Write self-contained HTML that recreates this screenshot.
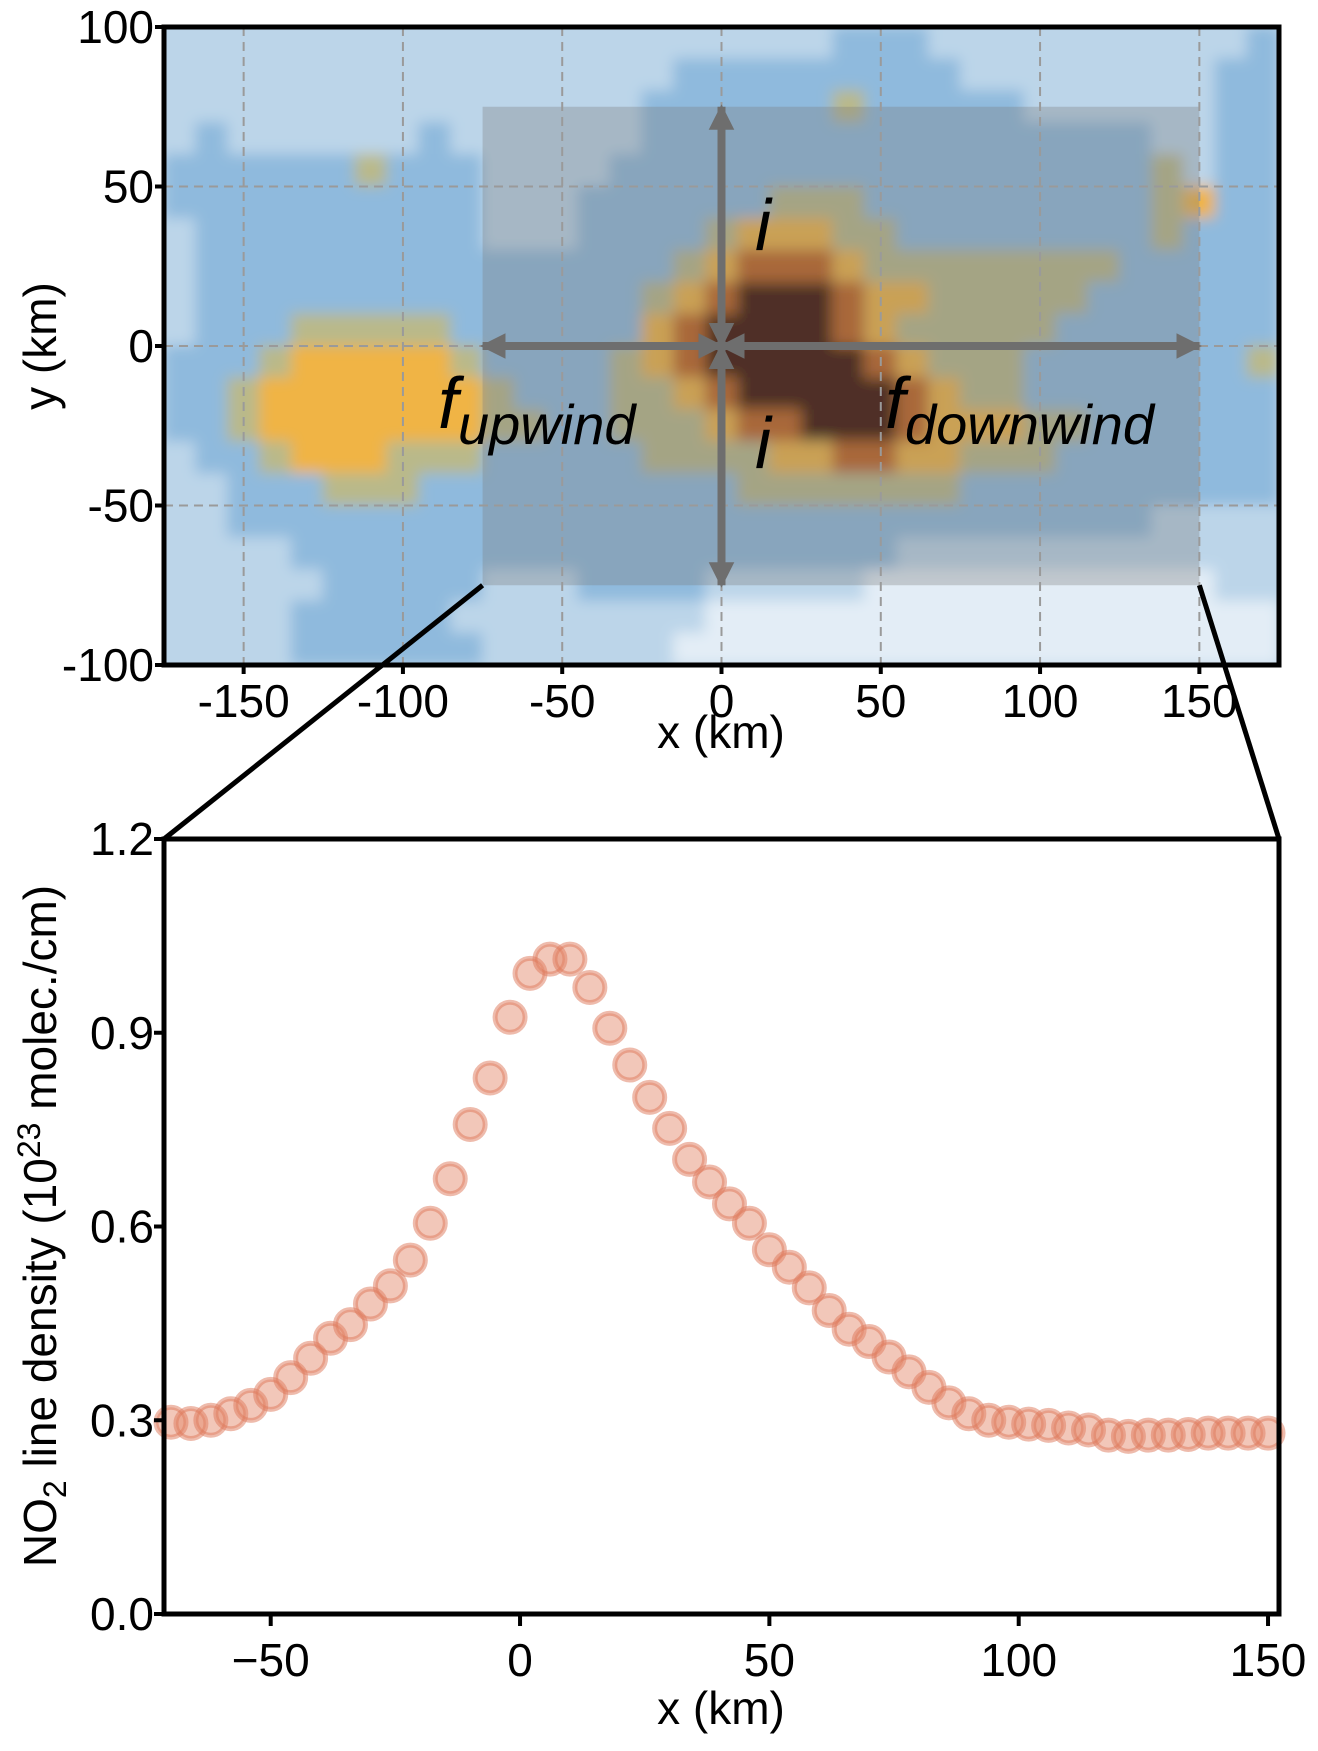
<!DOCTYPE html>
<html><head><meta charset="utf-8"><style>
body{margin:0;background:#fff;}
svg text{font-family:"Liberation Sans",sans-serif;fill:#000;}
</style></head><body>
<svg id="fig" width="1318" height="1746" viewBox="0 0 1318 1746" xmlns="http://www.w3.org/2000/svg">
<defs>
<filter id="blur" x="-5%" y="-5%" width="110%" height="110%"><feGaussianBlur stdDeviation="7"/></filter>
<clipPath id="topclip"><rect x="164" y="27" width="1115" height="638"/></clipPath>
<marker id="ah" viewBox="0 0 10 10" refX="9" refY="5" markerWidth="3.2" markerHeight="3.2" orient="auto-start-reverse"><path d="M0,0 L10,5 L0,10 z" fill="#6e6e6e"/></marker>
</defs>
<g id="topPanel"></g>
<g id="bottomPanel"></g>
</svg>
<script>
// ---- top heatmap data (10 km cells, rows from y=95 down to y=-95, cols x=-170..170)
const heatRows = [
"11111111111111111111122211111111112",
"11111111111111112222222221111111122",
"11111111111111122222232222211111122",
"12111111211111122222222222222221122",
"22222232221111222222222222222223122",
"22222222221112222223332222222223422",
"12222222221112222344433222222223222",
"12222222222222223455543333333322222",
"12222222222222234566654433333222222",
"12223333322222245666654333332222222",
"22234444432222345666665433322222223",
"22344444443222334566666543322222222",
"22344444443322333455666544433222222",
"12234443332222233334455443332222222",
"11222333222222222233333332222222222",
"11222222222222222222222222222221111",
"11112222222222222222222111111111111",
"11111222221112222111110000000000011",
"11112222211111111000000000000000000",
"11112222221111110000000000000000000"];
const heatColors = ["#e3edf6","#bcd5e9","#8fbadd","#b9b98a","#f0b445","#c0601a","#3a0a00"];
const topXTicks = [-150,-100,-50,0,50,100,150];
const topYTicks = [100,50,0,-50,-100];
// ---- bottom scatter data
const profileX = [-70,-66,-62,-58,-54,-50,-46,-42,-38,-34,-30,-26,-22,-18,-14,-10,-6,-2,2,6,10,14,18,22,26,30,34,38,42,46,50,54,58,62,66,70,74,78,82,86,90,94,98,102,106,110,114,118,122,126,130,134,138,142,146,150];
const profileY = [0.297,0.295,0.300,0.31,0.323,0.34,0.366,0.396,0.427,0.448,0.48,0.508,0.548,0.605,0.674,0.758,0.83,0.924,0.992,1.014,1.014,0.97,0.907,0.85,0.80,0.752,0.704,0.669,0.635,0.605,0.564,0.537,0.505,0.47,0.441,0.422,0.398,0.375,0.351,0.327,0.31,0.30,0.297,0.294,0.292,0.288,0.285,0.277,0.275,0.277,0.277,0.278,0.28,0.28,0.28,0.28];
const botXTicks = [-50,0,50,100,150];
const botYTicks = [0.0,0.3,0.6,0.9,1.2];

{
const NS="http://www.w3.org/2000/svg";
const FS=46;
function mk(tag,attrs,parent){const e=document.createElementNS(NS,tag);for(const k in attrs)e.setAttribute(k,attrs[k]);parent.appendChild(e);return e;}
const T={l:164,r:1279,t:27,b:665,x0:-175,x1:175,y0:-100,y1:100};
const tx=v=>T.l+(v-T.x0)/(T.x1-T.x0)*(T.r-T.l);
const ty=v=>T.b-(v-T.y0)/(T.y1-T.y0)*(T.b-T.t);
const topG=document.getElementById('topPanel');
const hm=mk('g',{'clip-path':'url(#topclip)'},topG);


const hb=mk('g',{filter:'url(#blur)'},hm);
mk('rect',{x:T.l-20,y:T.t-20,width:T.r-T.l+40,height:T.b-T.t+40,fill:heatColors[1]},hb);
heatRows.forEach((row,ri)=>{
  const yc=95-10*ri;
  for(let ci=0;ci<35;ci++){
    const v=+(row[ci]||1);
    const xc=-170+10*ci;
    const c=mk('rect',{x:tx(xc-5)-0.5,y:ty(yc+5)-0.5,width:tx(10)-tx(0)+1,height:ty(0)-ty(10)+1,fill:heatColors[v]},hb);
    
    
  }
});
const ov=mk('rect',{x:tx(-75),y:ty(75),width:tx(150)-tx(-75),height:ty(-75)-ty(75),fill:'rgba(120,120,120,0.32)'},hm);


topXTicks.forEach(v=>{const g=mk('line',{x1:tx(v),x2:tx(v),y1:T.t,y2:T.b,stroke:'#9a9a9a','stroke-width':2,'stroke-dasharray':'9,6'},hm);
 
 });
topYTicks.forEach(v=>{const g=mk('line',{x1:T.l,x2:T.r,y1:ty(v),y2:ty(v),stroke:'#9a9a9a','stroke-width':2,'stroke-dasharray':'9,6'},hm);
 
 });
const aw={stroke:'#6e6e6e','stroke-width':8,'marker-end':'url(#ah)','marker-start':'url(#ah)'};
[[0,0,-75,0],[0,0,150,0],[0,0,0,75],[0,0,0,-75]].forEach(a=>{
  const l=mk('line',Object.assign({x1:tx(a[0]),y1:ty(a[1]),x2:tx(a[2]),y2:ty(a[3])},aw),topG);
  
  
});
function lab(x,y,txt,sub,name){const t=mk('text',{x:x,y:y,'font-size':72,'font-style':'italic'},topG);t.textContent=txt;
 if(sub){const s=mk('tspan',{'font-size':56,dy:16},t);s.textContent=sub;}
 
 }
lab(755,250,'i','','label-i-top');
lab(755,468,'i','','label-i-bottom');
lab(438,428,'f','upwind','label-f-upwind');
lab(885,428,'f','downwind','label-f-downwind');
const fr=mk('rect',{x:T.l,y:T.t,width:T.r-T.l,height:T.b-T.t,fill:'none',stroke:'#000','stroke-width':5},topG);


topXTicks.forEach(v=>{mk('line',{x1:tx(v),x2:tx(v),y1:T.b,y2:T.b+9,stroke:'#000','stroke-width':4},topG);
 const t=mk('text',{x:tx(v),y:T.b+52,'font-size':FS,'text-anchor':'middle'},topG);t.textContent=String(v);
 
 });
topYTicks.forEach(v=>{mk('line',{x1:T.l-9,x2:T.l,y1:ty(v),y2:ty(v),stroke:'#000','stroke-width':4},topG);
 const t=mk('text',{x:T.l-10,y:ty(v)+16,'font-size':FS,'text-anchor':'end'},topG);t.textContent=String(v);
 
 });
let t1=mk('text',{x:721,y:748,'font-size':FS,'text-anchor':'middle'},topG);t1.textContent='x (km)';


t1=mk('text',{x:0,y:0,'font-size':FS,'text-anchor':'middle',transform:'translate(56,346) rotate(-90)'},topG);t1.textContent='y (km)';



const B={l:164,r:1279,t:839,b:1614,x0:-71.4,x1:152.2,y0:0,y1:1.2};
const bx=v=>B.l+(v-B.x0)/(B.x1-B.x0)*(B.r-B.l);
const by=v=>B.b-(v-B.y0)/(B.y1-B.y0)*(B.b-B.t);
const bot=document.getElementById('bottomPanel');
[[tx(-75),ty(-75),B.l,B.t],[tx(150),ty(-75),B.r,B.t]].forEach(c=>{
 const l=mk('line',{x1:c[0],y1:c[1],x2:c[2],y2:c[3],stroke:'#000','stroke-width':5},bot);
 
 });
mk('rect',{x:B.l,y:B.t,width:B.r-B.l,height:B.b-B.t,fill:'#fff'},bot);
const pts=mk('g',{},bot);


profileX.forEach((x,i)=>{
 const c=mk('circle',{cx:bx(x),cy:by(profileY[i]),r:15,fill:'rgba(226,130,100,0.45)',stroke:'rgba(222,120,90,0.5)','stroke-width':5},pts);
 
 });
const fr2=mk('rect',{x:B.l,y:B.t,width:B.r-B.l,height:B.b-B.t,fill:'none',stroke:'#000','stroke-width':5},bot);


botXTicks.forEach(v=>{mk('line',{x1:bx(v),x2:bx(v),y1:B.b,y2:B.b+12,stroke:'#000','stroke-width':4},bot);
 const t=mk('text',{x:bx(v),y:B.b+62,'font-size':FS,'text-anchor':'middle'},bot);t.textContent=v<0?'\u2212'+(-v):String(v);
 
 });
botYTicks.forEach(v=>{mk('line',{x1:B.l-10,x2:B.l,y1:by(v),y2:by(v),stroke:'#000','stroke-width':4},bot);
 const t=mk('text',{x:B.l-10,y:by(v)+16,'font-size':FS,'text-anchor':'end'},bot);t.textContent=v.toFixed(1);
 
 });
t1=mk('text',{x:721,y:1724,'font-size':FS,'text-anchor':'middle'},bot);t1.textContent='x (km)';


t1=mk('text',{x:0,y:0,'font-size':FS,'text-anchor':'middle',transform:'translate(56,1226) rotate(-90)'},bot);


t1.appendChild(document.createTextNode('NO'));
let s=mk('tspan',{'font-size':32,dy:10},t1);s.textContent='2';
s=mk('tspan',{dy:-10},t1);s.textContent=' line density (10';
s=mk('tspan',{'font-size':32,dy:-16},t1);s.textContent='23';
s=mk('tspan',{dy:16},t1);s.textContent=' molec./cm)';
}
</script>
</body></html>
